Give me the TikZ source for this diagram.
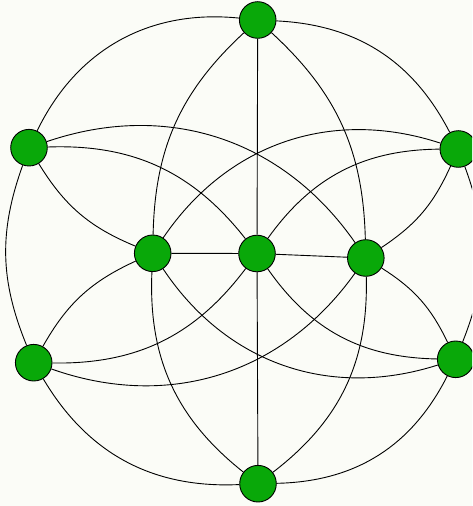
\documentclass[tikz,border=0pt]{standalone}
\definecolor{bg}{RGB}{251,252,247}
\definecolor{vgreen}{RGB}{9,168,9}
\begin{document}
\begin{tikzpicture}[x=1pt,y=1pt,
  vertex/.style={circle,draw=black,line width=0.9pt,fill=vgreen,minimum size=36.6pt,inner sep=0pt},
  edge/.style={draw=black,line width=0.9pt}]
\useasboundingbox (0,0) rectangle (472,506);
\fill[bg] (0,0) rectangle (472,506);
\clip (0,0) rectangle (472,506);
% nodes
\node[vertex] (T)  at (257.7,486) {};
\node[vertex] (B)  at (258,22.3) {};
\node[vertex] (UL) at (29,358.3) {};
\node[vertex] (UR) at (458.3,357) {};
\node[vertex] (LL) at (33.7,143.3) {};
\node[vertex] (LR) at (455.7,146.7) {};
\node[vertex] (C)  at (257,252.5) {};
\node[vertex] (L)  at (152.7,252.7) {};
\node[vertex] (R)  at (365.8,248) {};
% outer ring
\path[edge] (T) to[bend right=35] (UL);
\path[edge] (UL) to[bend right=21] (LL);
\path[edge] (LL) to[bend right=31] (B);
\path[edge] (B) to[bend right=31] (LR);
\path[edge] (LR) to[bend right=21] (UR);
\path[edge] (UR) to[bend right=30] (T);
% straight
\path[edge] (T) -- (C);
\path[edge] (C) -- (B);
\path[edge] (L) -- (C);
\path[edge] (C) -- (R);
% vertical lens curves
\path[edge] (T) to[bend right=23] (L);
\path[edge] (T) to[bend left=23] (R);
\path[edge] (B) to[bend left=27] (L);
\path[edge] (B) to[bend right=27] (R);
% long crossing curves
\path[edge] (UL) to[bend left=37] (R);
\path[edge] (UR) to[bend right=37] (L);
\path[edge] (LL) to[bend right=37] (R);
\path[edge] (LR) to[bend left=37] (L);
% to centre
\path[edge] (UL) to[bend left=27] (C);
\path[edge] (UR) to[bend right=27] (C);
\path[edge] (LL) to[bend right=27] (C);
\path[edge] (LR) to[bend left=27] (C);
% short outer-to-middle
\path[edge] (UL) to[bend right=18] (L);
\path[edge] (UR) to[bend left=16] (R);
\path[edge] (LL) to[bend left=18] (L);
\path[edge] (LR) to[bend right=16] (R);
\end{tikzpicture}
\end{document}
